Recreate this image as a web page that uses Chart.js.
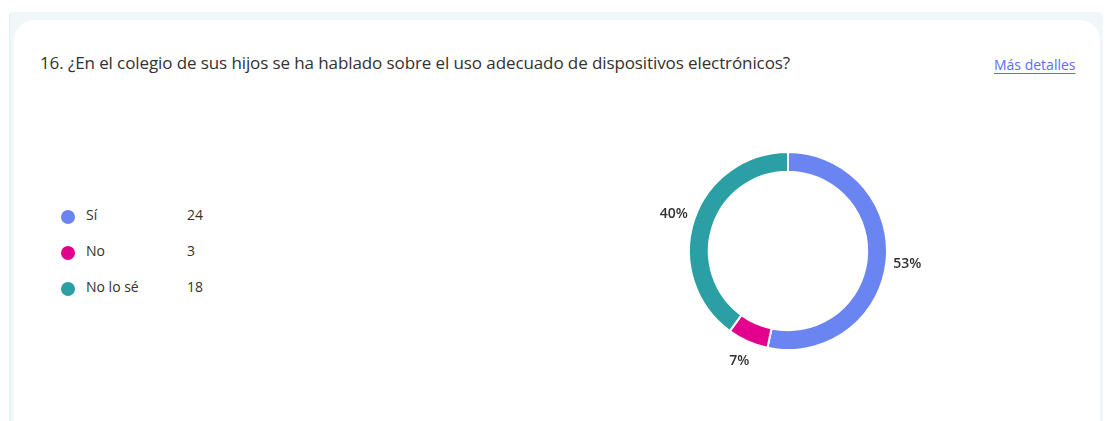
<!DOCTYPE html>
<html>
<head>
<meta charset="utf-8">
<script src="https://cdn.jsdelivr.net/npm/chart.js@4"></script>
<style>
  html, body { margin: 0; padding: 0; background: #fff; width: 1107px; height: 421px; overflow: hidden; }
  body { font-family: "Open Sans", "Noto Sans", sans-serif; color: #323130; }
  .outer { position: absolute; left: 9px; top: 12px; width: 1093px; height: 420px; background: #eff7f9; border-left: 1px solid #e3effb; border-radius: 4px 4px 0 0; }
  .card { position: absolute; left: 14px; top: 20px; width: 1086px; height: 420px; background: #fff; border-radius: 20px; }
  .title { position: absolute; left: 40px; top: 51px; font-size: 17px; letter-spacing: -0.1px; white-space: nowrap; }
  .more { position: absolute; left: 994px; top: 55px; font-size: 14px; color: #5e6cf0; text-decoration: underline; text-underline-offset: 3px; }
  .legend { position: absolute; left: 61px; top: 205px; font-size: 14px; }
  .row { position: relative; height: 36px; }
  .dot { position: absolute; left: 0; top: 5px; width: 14px; height: 14px; border-radius: 50%; }
  .lab { position: absolute; left: 25px; top: 0; white-space: nowrap; }
  .val { position: absolute; left: 126px; top: 0; }
  #wrap { position: absolute; left: 638px; top: 121px; width: 300px; height: 260px; }
</style>
</head>
<body>
<div class="outer"></div>
<div class="card"></div>
<div class="title">16. ¿En el colegio de sus hijos se ha hablado sobre el uso adecuado de dispositivos electrónicos?</div>
<div class="more">Más detalles</div>
<div class="legend" id="legend"></div>
<div id="wrap"><canvas id="donut"></canvas></div>
<script>
const labels = ["Sí", "No", "No lo sé"];
const counts = [24, 3, 18];
const colors = ["#6a84f1", "#e3008c", "#2ba0a4"];

// legend built from the same arrays
const legendDom = document.getElementById("legend");
labels.forEach((label, i) => {
  const row = document.createElement("div");
  row.className = "row";
  row.innerHTML =
    '<span class="dot" style="background:' + colors[i] + '"></span>' +
    '<span class="lab">' + label + "</span>" +
    '<span class="val">' + counts[i] + "</span>";
  legendDom.appendChild(row);
});

// percent labels outside each arc
const outsideLabels = {
  id: "outsideLabels",
  afterDatasetsDraw(chart) {
    const ctx = chart.ctx;
    const meta = chart.getDatasetMeta(0);
    const total = counts.reduce((a, b) => a + b, 0);
    ctx.save();
    ctx.font = "600 14px 'Open Sans', sans-serif";
    ctx.fillStyle = "#323130";
    ctx.textAlign = "center";
    ctx.textBaseline = "middle";
    meta.data.forEach((arc, i) => {
      const { x, y, startAngle, endAngle, outerRadius } = arc.getProps(
        ["x", "y", "startAngle", "endAngle", "outerRadius"], true);
      const mid = (startAngle + endAngle) / 2;
      const r = outerRadius + 21;
      const pct = Math.round((counts[i] / total) * 100) + "%";
      ctx.fillText(pct, x + Math.cos(mid) * r, y + Math.sin(mid) * r);
    });
    ctx.restore();
  },
};

new Chart(document.getElementById("donut"), {
  type: "doughnut",
  data: {
    labels,
    datasets: [
      {
        data: counts,
        backgroundColor: colors,
        borderColor: "#ffffff",
        borderWidth: 2,
        hoverBorderWidth: 2,
        hoverOffset: 0,
      },
    ],
  },
  options: {
    responsive: true,
    maintainAspectRatio: false,
    animation: false,
    cutout: "80%",
    layout: { padding: { top: 30, bottom: 30 } },
    plugins: {
      legend: { display: false },
      tooltip: { enabled: false },
    },
  },
  plugins: [outsideLabels],
});
</script>
</body>
</html>
